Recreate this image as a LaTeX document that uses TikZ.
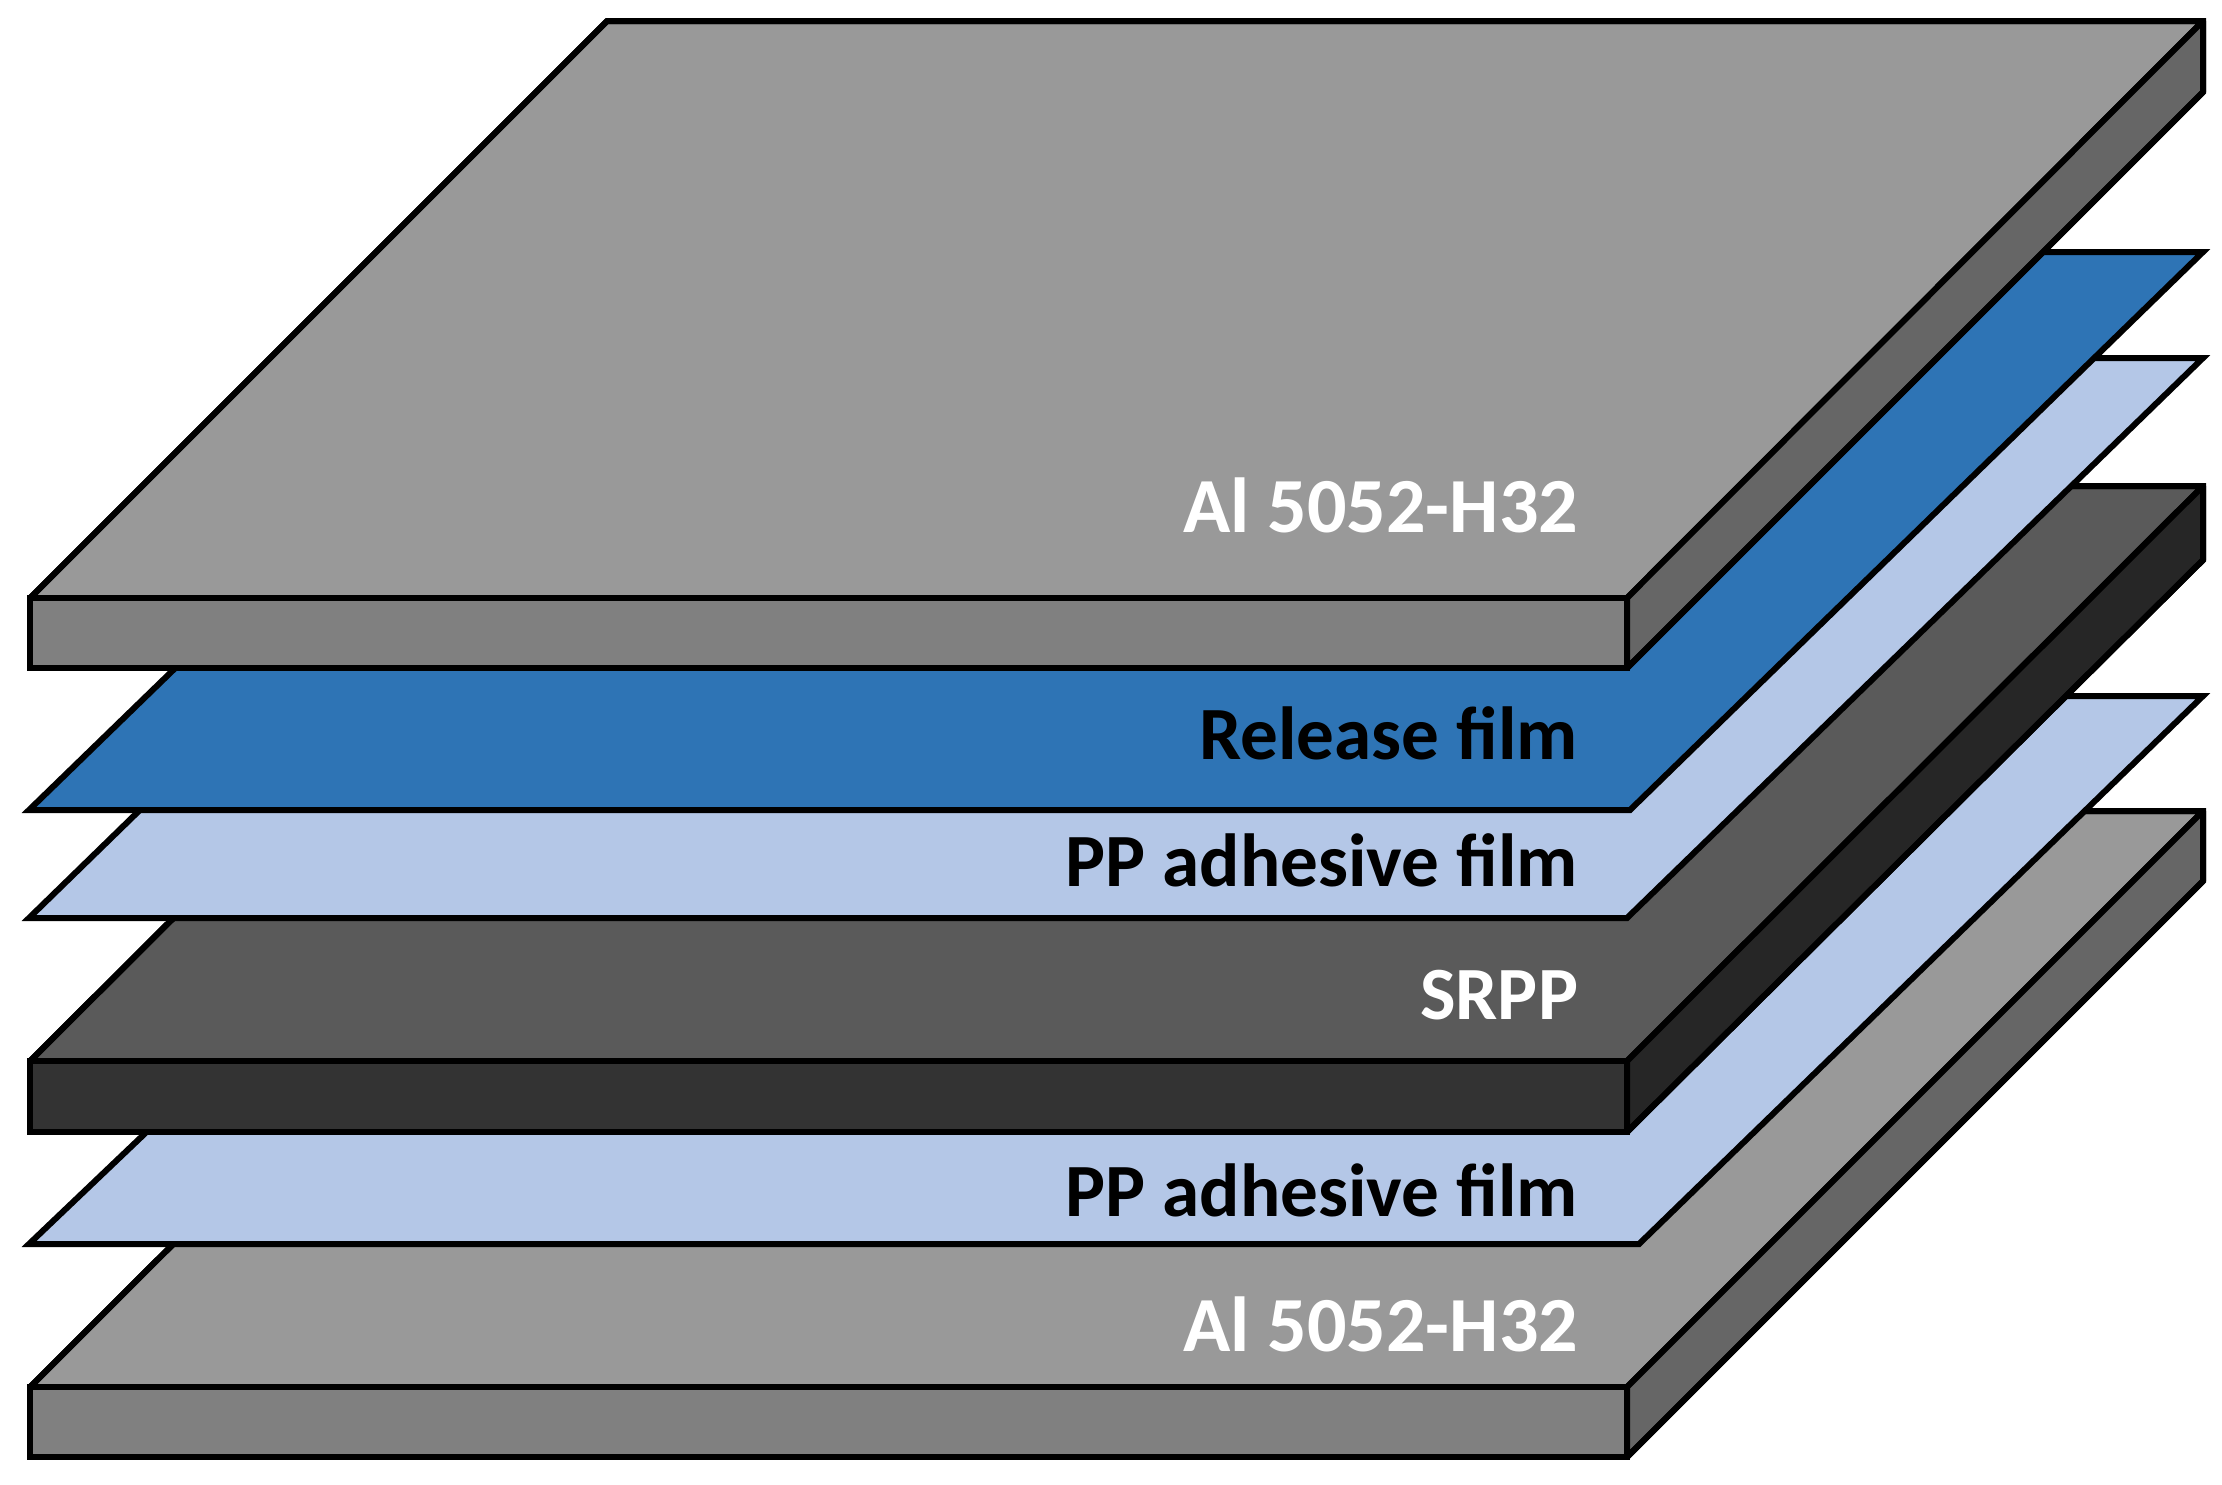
\documentclass[tikz,border=0pt]{standalone}
\usepackage{fontspec}
\setmainfont{Carlito}
\definecolor{alTop}{HTML}{999999}
\definecolor{alFront}{HTML}{808080}
\definecolor{alSide}{HTML}{666666}
\definecolor{srTop}{HTML}{5A5A5A}
\definecolor{srFront}{HTML}{333333}
\definecolor{srSide}{HTML}{262626}
\definecolor{relBlue}{HTML}{2E74B5}
\definecolor{ppBlue}{HTML}{B4C7E7}
\tikzset{
  face/.style={draw=black,line width=3pt,line join=miter},
  slabface/.style={draw=black,line width=3pt,line join=bevel},
  lab/.style={anchor=base east,inner sep=0pt,outer sep=0pt,font=\fontsize{37.6}{38}\selectfont\bfseries},
  lablarge/.style={lab,font=\fontsize{39}{39}\selectfont\bfseries},
}
% #1 left x, #2 front-right x, #3 back-left x, #4 back-right x, #5 back y, #6 front top y, #7 front bottom y, #8 side bottom y, #9 prefix colours
\newcommand{\slabdraw}[9]{%
  \draw[slabface,fill=#9Top] (#1,#6) -- (#3,#5) -- (#4,#5) -- (#2,#6) -- cycle;
  \draw[slabface,fill=#9Side] (#2,#6) -- (#4,#5) -- (#4,#8) -- (#2,#7) -- cycle;
  \draw[face] (#1,#6) -- (#3,#5) -- (#4,#5) -- (#4,#8) -- (#2,#7);
  \draw[face,fill=#9Front] (#1,#6) rectangle (#2,#7);
}
\newcommand{\filmdraw}[4]{%
  \draw[face,fill=#4] (29,#3) -- (604,#2) -- (2203,#2) -- (#1,#3) -- cycle;
}
\begin{document}
\begin{tikzpicture}[x=0.5pt,y=-0.5pt]
\useasboundingbox (0,0) rectangle (2222,1484);
\slabdraw{30}{1627}{607}{2203}{811}{1387}{1457}{881}{al}
\filmdraw{1639}{696}{1244}{ppBlue}
\slabdraw{30}{1627}{607}{2203}{486}{1061}{1132}{560}{sr}
\filmdraw{1627}{358}{918}{ppBlue}
\filmdraw{1630}{252}{810}{relBlue}
\slabdraw{30}{1627}{607}{2203}{21}{598}{668}{92}{al}
\node[lablarge,text=white] (al1) at (1578,532) {Al 5052-H32};
\node[lab,text=black] (rel) at (1578,759) {Release film};
\node[lab,text=black] (pp1) at (1578,886) {PP adhesive film};
\node[lab,text=white] (srpp) at (1578,1019) {SRPP};
\node[lab,text=black] (pp2) at (1578,1216) {PP adhesive film};
\node[lablarge,text=white] (al2) at (1578,1351) {Al 5052-H32};
\end{tikzpicture}
\end{document}
